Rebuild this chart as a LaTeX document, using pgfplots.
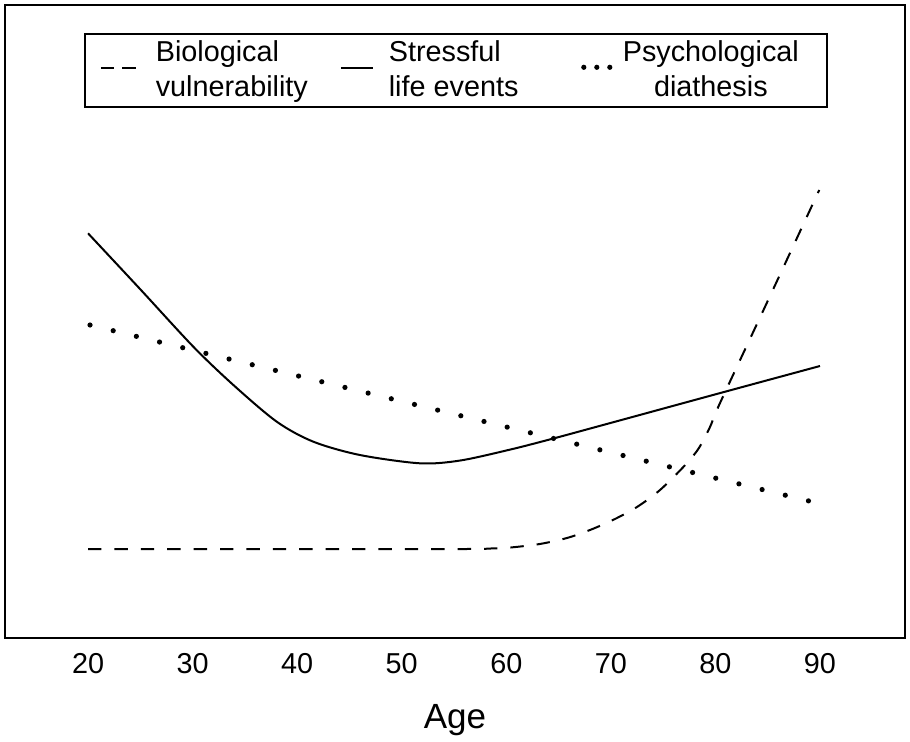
\documentclass[border=0pt]{standalone}
\usepackage{pgfplots}
\pgfplotsset{compat=1.18}
\usepackage{fontspec}
\usepackage{calc}
\setmainfont{Liberation Sans}
\usetikzlibrary{calc}
\pgfplotsset{
  legA/.style={legend image code/.code={\path[draw=none,fill=none] (0,0) -- (35.5pt,0); \draw[##1, overlay, dash pattern=on 6.7pt off 4.1pt] (8pt,-7.75pt) -- (25.5pt,-7.75pt);}},
  legB/.style={legend image code/.code={\path[draw=none,fill=none] (0,0) -- (24pt,0); \draw[##1, overlay] (0,-7.75pt) -- (16pt,-7.75pt);}},
  legC/.style={legend image code/.code={\path[draw=none,fill=none] (0,0) -- (21pt,0); \draw[##1, overlay, line width=2.6pt, dash pattern=on 0pt off 6.5pt] (1.5pt,-7.25pt) -- (14.8pt,-7.25pt);}},
}
\begin{document}
\begin{tikzpicture}
\begin{axis}[
 width=450pt, height=316.5pt, scale only axis,
 xmin=12.06, xmax=98.13, ymin=0, ymax=633,
 xtick={20,30,...,90}, ytick=\empty,
 major tick length=0pt,
 axis line style={line width=0.8pt},
 /pgf/number format/assume math mode=true,
 xticklabel style={font=\fontsize{14.4}{17}\selectfont, yshift=-4.35pt},
 xlabel={Age},
 xlabel style={font=\fontsize{17.5}{21}\selectfont, at={(axis description cs:0.5,0)}, anchor=north, yshift=-29.5pt},
 legend columns=3,
 legend cell align=left,
 legend style={at={(0.0878,0.9558)}, anchor=north west, draw=black, line width=0.8pt,
   inner xsep=0pt, inner ysep=0.75pt, font=\fontsize{14.4}{17.5}\selectfont,
   nodes={inner sep=0pt, text height=13pt, text depth=4.5pt}, column sep=0pt, row sep=0pt},
]
\addplot[black, line width=1pt, dash pattern=on 6.7pt off 6.5pt, smooth, legA]
  coordinates {(20,89) (40,89) (56,89) (58.5,89.5) (60.4,90.5) (63.2,94) (65.8,100) (68,108) (70.2,118) (72.5,131) (74.7,148) (76.93,171) (78.36,189) (79.48,211) (80.44,235) (85,337) (89.93,448)};
\addlegendentry{\makebox[92.5pt][l]{Biological}}
\addplot[black, line width=1pt, smooth, legB]
  coordinates {(20,404.7) (25,348.7) (30.07,291.3) (33.9,253) (38.05,216.3) (41.55,196.3) (46,183) (51.75,174.7) (55.6,177.5) (60.4,188.5) (64.5,199.5) (70.55,216.7) (80.75,245.8) (90,272)};
\addlegendentry{\makebox[96pt][l]{Stressful}}
\addplot[black, line width=2.6pt, line cap=round, dash pattern=on 0pt off 11.93pt, legC]
  coordinates {(20.19,313) (88.95,137)};
\addlegendentry{\makebox[102pt][l]{Psychological}}
\addlegendimage{empty legend}
\addlegendentry{vulnerability}
\addlegendimage{empty legend}
\addlegendentry{life events}
\addlegendimage{empty legend}
\addlegendentry{\makebox[\widthof{Psychological}][c]{diathesis}}
\end{axis}
\pgfresetboundingbox
\path ($(current axis.south west)+(-2.5pt,-51.5pt)$) rectangle ($(current axis.north east)+(2.5pt,2.5pt)$);
\end{tikzpicture}
\end{document}
